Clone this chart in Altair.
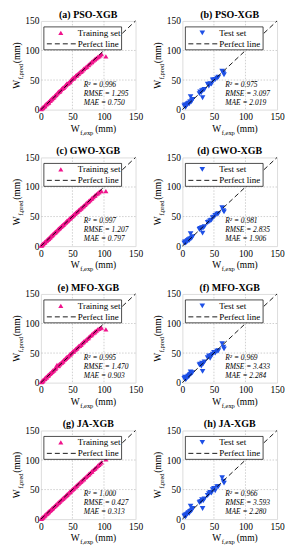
import altair as alt
import pandas as pd

FONT = "Liberation Serif"
PINK = "#f0148c"
BLUE = "#1e50e6"

titles = ["(a) PSO-XGB", "(b) PSO-XGB", "(c) GWO-XGB", "(d) GWO-XGB",
          "(e) MFO-XGB", "(f) MFO-XGB", "(g) JA-XGB", "(h) JA-XGB"]

train_exp = [0.5, 1.5, 2, 3, 3.5, 5, 6, 6.5, 8, 9,
             10, 11, 12, 12.5, 14, 15, 16, 17.5, 18, 19,
             20.5, 22, 23, 24, 25.5, 27, 28, 29, 30, 31.5,
             33, 34, 35, 36, 37.5, 39, 40, 41, 42, 43.5,
             45, 46, 47, 48.5, 50, 51, 52, 53.5, 55, 56,
             57, 58.5, 60, 61.5, 63, 64, 65.5, 67, 68, 70,
             71.5, 73, 75, 76, 78, 80, 81, 83, 85, 86,
             88, 90, 92, 94, 96, 103]

pso_train = [1, 2, 2.5, 3, 4.5, 5, 7, 6, 9, 9.5,
             11, 11, 13, 12, 15, 15.5, 17, 18, 19.5, 20,
             21, 23, 24.5, 25, 27, 29, 30, 31, 31, 33,
             35, 36, 37, 37.5, 39, 41, 42, 44, 44, 45,
             46, 47, 49, 51, 52, 54, 53, 55, 57, 58,
             58, 60, 61, 63, 64, 65, 66, 68, 69, 70.5,
             72, 73, 75.5, 76, 78.5, 80, 81, 83, 84.5, 86,
             87, 89, 90, 92, 94, 90]

gwo_train = [1, 1.5, 2.5, 3.5, 4, 5.5, 6.5, 7, 8.5, 9.5,
             10.5, 11.5, 12.5, 13, 14.5, 15.5, 17, 18, 19, 20,
             21.5, 23, 24, 25, 26.5, 28, 29.5, 30, 31, 32.5,
             34, 35, 36, 37, 38.5, 40, 41, 42.5, 43, 44.5,
             46, 47, 48, 49.5, 51, 52, 53, 54.5, 56, 57,
             58, 59, 61, 62, 63.5, 64.5, 66, 67.5, 68.5, 70,
             72, 73.5, 75, 76.5, 78, 80, 81.5, 83, 85, 86,
             88, 89.5, 91, 93, 93, 93]

mfo_train = [1, 2, 2, 3.5, 4, 5.5, 7, 6.5, 9, 9,
             11, 12, 12.5, 13.5, 15, 16, 16.5, 18.5, 19, 20.5,
             21, 23, 24, 25.5, 30, 28, 29, 31, 31.5, 33,
             34, 35.5, 36, 38, 39, 40.5, 42, 43, 43.5, 45,
             46.5, 48, 48.5, 50, 52, 53, 53, 55, 56.5, 58,
             58, 60, 62, 62.5, 64, 65, 67, 68, 69.5, 71,
             72, 74, 75.5, 77, 79, 80.5, 82, 84, 85, 87,
             88, 90, 91, 92.5, 93, 90]

ja_train = [0.6, 1.5, 2.2, 3, 3.6, 5, 6.3, 6.5, 8.2, 9,
            10, 11.2, 12, 12.8, 14, 15.2, 16, 17.5, 18.3, 19,
            20.8, 22, 23.3, 24.4, 25.5, 27.2, 28, 29.3, 30, 31.8,
            33, 34.3, 35, 36.4, 37.5, 39.2, 40, 41.3, 42, 43.8,
            45, 46.3, 47, 48.8, 50, 51.5, 52, 53.8, 55, 56.4,
            57, 58.8, 60, 61.8, 63, 64.3, 65.5, 67.3, 68, 70.3,
            71.5, 73.2, 75, 76.3, 78, 80.2, 81, 83.3, 85, 86.3,
            88, 90.2, 92, 94.2, 96, 101]

test_exp = [3, 4, 5, 5, 6, 7, 8, 9, 10, 11,
            12, 13, 14, 15, 16, 27, 28, 30, 31, 32,
            33, 35, 40, 42, 44, 46, 48, 50, 52, 55,
            57, 63, 65, 66]

pso_test = [6, 8, 4, 7, 6, 8, 9, 10, 11, 10,
            13, 22, 13, 15, 17, 27, 30, 29, 32, 20,
            33, 34, 43, 40, 44, 43, 50, 50, 51, 53,
            55, 65, 62, 59]
gwo_test = [5, 7, 5, 6, 7, 7, 9, 9, 11, 10,
            12, 21, 13, 14, 16, 28, 30, 29, 31, 22,
            31, 33, 40, 41, 43, 44, 48, 49, 52, 54,
            55, 65, 60, 58]
mfo_test = [7, 9, 5, 8, 6, 8, 9, 11, 10, 12,
            14, 18, 15, 16, 17, 30, 31, 28, 33, 19,
            32, 35, 42, 45, 41, 46, 48, 51, 50, 53,
            54, 66, 60, 57]
ja_test = [5, 6, 4, 7, 6, 8, 9, 10, 11, 10,
           13, 22, 14, 15, 18, 28, 29, 30, 33, 18,
           31, 34, 40, 43, 45, 44, 50, 52, 48, 55,
           55, 70, 64, 61]

r2_vals = ["0.996", "0.975", "0.997", "0.981", "0.995", "0.969", "1.000", "0.966"]
rmse_vals = ["1.295", "3.097", "1.207", "2.835", "1.470", "3.433", "0.427", "3.593"]
mae_vals = ["0.750", "2.019", "0.797", "1.906", "0.903", "2.284", "0.313", "2.280"]

perfect_x = [0, 150]
perfect_y = [0, 150]
grid_vals = [50, 100]

W, H = 95, 89
one = pd.DataFrame({"k": [0]})


def txt(text, x, y, size=9, **kw):
    return alt.Chart(one).mark_text(text=text, font=FONT, fontSize=size,
                                    color="black", **kw).encode(
        x=alt.value(x), y=alt.value(y))


def panel(i, exp, pred, is_train):
    df = pd.DataFrame({"exp": exp, "pred": pred})
    scale = alt.Scale(domain=[0, 150], nice=False, zero=False)

    def ax():
        return alt.Axis(tickCount=3, title=None, grid=False, labelFont=FONT,
                        labelFontSize=9.5, labelColor="black", labelFlush=False,
                        labelOverlap=False, labelBound=False,
                        labelPadding=2, ticks=False, domain=False)

    color = PINK if is_train else BLUE
    shape = "triangle-up" if is_train else "triangle-down"
    msize = 26 if is_train else 32
    gdf = pd.DataFrame({"g": grid_vals})
    gx = alt.Chart(gdf).mark_rule(color="#b0b0b0", strokeDash=[1.5, 1.5],
                                  strokeWidth=0.6).encode(
        x=alt.X("g:Q", scale=scale, axis=ax()))
    gy = alt.Chart(gdf).mark_rule(color="#b0b0b0", strokeDash=[1.5, 1.5],
                                  strokeWidth=0.6).encode(
        y=alt.Y("g:Q", scale=scale, axis=ax()))
    pts = alt.Chart(df).mark_point(shape=shape, filled=True, size=msize,
                                   color=color, opacity=1, strokeWidth=0).encode(
        x=alt.X("exp:Q", scale=scale, axis=ax()),
        y=alt.Y("pred:Q", scale=scale, axis=ax()))
    ldf = pd.DataFrame({"exp": perfect_x, "pred": perfect_y})
    perfect = alt.Chart(ldf).mark_line(color="black", strokeDash=[5, 3],
                                       strokeWidth=0.9).encode(
        x="exp:Q", y="pred:Q")
    box = alt.Chart(one).mark_rect(fill="white", stroke="black",
                                   strokeWidth=0.7).encode(
        x=alt.value(3), x2=alt.value(81), y=alt.value(6), y2=alt.value(29))
    lsym = alt.Chart(one).mark_point(shape=shape, filled=True, size=msize,
                                     color=color, opacity=1, strokeWidth=0).encode(
        x=alt.value(20), y=alt.value(12))
    lline = alt.Chart(one).mark_rule(color="black", strokeDash=[5, 3],
                                     strokeWidth=0.9).encode(
        x=alt.value(6), x2=alt.value(35), y=alt.value(23))
    layers = [gx, gy, pts, perfect, box, lsym, lline,
              txt("Training set" if is_train else "Test set", 37, 12,
                  align="left", baseline="middle"),
              txt("Perfect line", 37, 23, align="left", baseline="middle"),
              txt("R\u00b2 = " + r2_vals[i], 43, 64, size=7.5, align="left",
                  baseline="middle", fontStyle="italic"),
              txt("RMSE = " + rmse_vals[i], 43, 73, size=7.5, align="left",
                  baseline="middle", fontStyle="italic"),
              txt("MAE = " + mae_vals[i], 43, 82, size=7.5, align="left",
                  baseline="middle", fontStyle="italic"),
              txt(titles[i], W / 2, -3, size=10, align="center",
                  baseline="alphabetic", fontWeight="bold"),
              # x axis title with subscript
              txt("W", 30, H + 22, size=9.5, align="left", baseline="alphabetic"),
              txt("f,exp", 39.5, H + 25, size=6.5, align="left", baseline="alphabetic"),
              txt("(mm)", 54.5, H + 22, size=9.5, align="left", baseline="alphabetic"),
              # y axis title with subscript
              txt("W", -21, 68, size=9.5, align="left", baseline="alphabetic", angle=270),
              txt("f,pred", -18, 58.5, size=6.5, align="left", baseline="alphabetic", angle=270),
              txt("(mm)", -21, 42.5, size=9.5, align="left", baseline="alphabetic", angle=270),
              ]
    return alt.layer(*layers).properties(width=W, height=H)


panels = [
    panel(0, train_exp, pso_train, True), panel(1, test_exp, pso_test, False),
    panel(2, train_exp, gwo_train, True), panel(3, test_exp, gwo_test, False),
    panel(4, train_exp, mfo_train, True), panel(5, test_exp, mfo_test, False),
    panel(6, train_exp, ja_train, True), panel(7, test_exp, ja_test, False),
]

chart = alt.ConcatChart(
    concat=panels, columns=2,
    spacing=alt.RowColnumber(row=48, column=47),
    bounds="flush",
    padding={"left": 3, "top": 0, "right": 2, "bottom": 2},
).configure_view(stroke="black", strokeWidth=0.8).configure(font=FONT, background="white")

chart.save("out.html", embed_options={"renderer": "svg", "actions": False})
